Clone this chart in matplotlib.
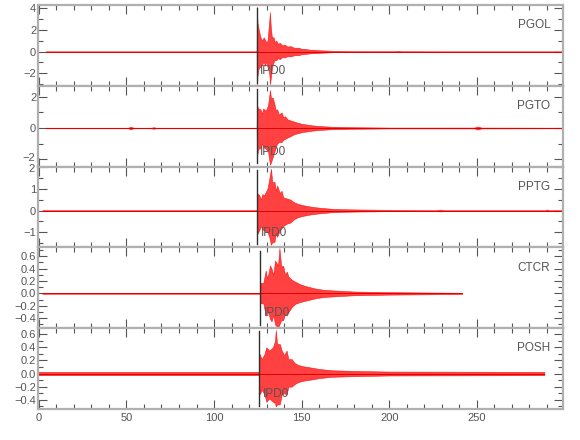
import matplotlib
matplotlib.use("Agg")
import matplotlib.pyplot as plt
from matplotlib.ticker import MultipleLocator, FuncFormatter
from matplotlib.transforms import offset_copy
import numpy as np

plt.rcParams['font.family'] = ['Liberation Sans Narrow', 'Liberation Sans', 'DejaVu Sans']

stations = ["PGOL", "PGTO", "PPTG", "CTCR", "POSH"]
pick_label = "IPD0"
pick_times = [124.4, 124.4, 124.7, 126.4, 125.8]

# envelope of each trace: time, upper amplitude, lower amplitude (magnitude)
pgol_t = [4, 124.3, 124.4, 124.8, 125.5, 126.5, 127.5, 128.3, 129, 130, 130.5, 131.5, 131.9, 132.4, 133.0, 134, 134.8, 135.5, 136.5, 137.5, 139, 140, 142, 143.5, 146, 148, 150, 152, 155, 157, 160, 163, 167, 172, 180, 203, 205, 207, 230, 299]
pgol_up = [0.02, 0.02, 4.1, 2.6, 2.0, 1.3, 1.0, 1.3, 1.1, 0.8, 1.0, 2.8, 3.6, 2.2, 1.3, 1.3, 0.8, 1.0, 0.7, 0.8, 0.55, 0.65, 0.45, 0.5, 0.33, 0.36, 0.25, 0.24, 0.16, 0.17, 0.12, 0.1, 0.07, 0.06, 0.04, 0.03, 0.07, 0.03, 0.02, 0.02]
pgol_lo = [0.02, 0.02, 3.0, 2.2, 1.5, 1.4, 1.2, 0.9, 1.3, 0.9, 1.4, 2.0, 3.0, 2.4, 1.5, 0.95, 0.75, 0.8, 0.6, 0.7, 0.5, 0.55, 0.42, 0.45, 0.33, 0.34, 0.25, 0.22, 0.16, 0.15, 0.12, 0.1, 0.07, 0.06, 0.04, 0.03, 0.07, 0.03, 0.02, 0.02]

pgto_t = [4, 51, 52.5, 54, 64, 65.5, 67, 124.3, 124.5, 125.2, 126.5, 127.3, 128, 129.5, 130.8, 131.9, 132.5, 133.5, 134.5, 135.3, 136, 137, 138.5, 139.5, 140.5, 142, 144, 146, 148, 150, 153, 156, 160, 167, 173, 180, 200, 248.5, 250.5, 252.5, 299]
pgto_up = [0.02, 0.02, 0.09, 0.02, 0.02, 0.05, 0.02, 0.02, 1.46, 1.25, 1.2, 0.9, 1.25, 1.1, 1.46, 2.43, 1.9, 1.95, 1.5, 1.1, 1.2, 0.85, 1.0, 0.7, 0.75, 0.55, 0.47, 0.4, 0.33, 0.27, 0.22, 0.17, 0.13, 0.08, 0.07, 0.05, 0.03, 0.03, 0.1, 0.03, 0.02]
pgto_lo = [0.02, 0.02, 0.09, 0.02, 0.02, 0.05, 0.02, 0.02, 1.87, 1.33, 1.3, 1.0, 1.2, 1.33, 1.5, 2.35, 2.2, 1.85, 1.5, 1.2, 1.0, 0.9, 0.9, 0.75, 0.7, 0.6, 0.5, 0.38, 0.33, 0.27, 0.22, 0.17, 0.13, 0.08, 0.07, 0.05, 0.03, 0.03, 0.1, 0.03, 0.02]

pptg_t = [2, 124.6, 124.8, 125.8, 126.8, 127.5, 128.6, 130.5, 131.5, 132.5, 133.2, 134.5, 135.3, 136, 137.5, 138.5, 139.5, 141.5, 143.5, 145.5, 148, 151, 155.7, 160, 167, 173, 180, 200, 226, 229, 232, 289, 290, 291, 299.3]
pptg_up = [0.015, 0.015, 0.77, 0.7, 0.5, 0.75, 0.7, 1.0, 1.44, 1.9, 1.3, 1.3, 0.9, 1.14, 0.8, 0.9, 0.6, 0.55, 0.5, 0.38, 0.3, 0.24, 0.17, 0.13, 0.08, 0.06, 0.05, 0.03, 0.015, 0.04, 0.015, 0.015, 0.05, 0.015, 0.015]
pptg_lo = [0.015, 0.015, 1.05, 0.9, 0.7, 0.85, 0.9, 1.0, 1.2, 1.56, 1.45, 1.42, 1.0, 1.2, 0.9, 0.8, 0.7, 0.6, 0.55, 0.4, 0.3, 0.24, 0.17, 0.13, 0.08, 0.06, 0.05, 0.03, 0.015, 0.04, 0.015, 0.015, 0.015, 0.015, 0.015]

ctcr_t = [2, 126.3, 126.5, 128.1, 129.5, 130.2, 130.9, 131.9, 132.8, 133.8, 134.8, 136.5, 137.3, 138.3, 139.5, 140.5, 141.5, 142.5, 144.3, 146.2, 149, 151.9, 157.6, 162, 167, 180, 200, 241.5]
ctcr_up = [0.006, 0.006, 0.17, 0.17, 0.37, 0.25, 0.3, 0.45, 0.4, 0.3, 0.53, 0.45, 0.73, 0.44, 0.44, 0.3, 0.35, 0.27, 0.22, 0.19, 0.15, 0.12, 0.08, 0.06, 0.05, 0.03, 0.02, 0.01]
ctcr_lo = [0.006, 0.006, 0.16, 0.16, 0.36, 0.28, 0.3, 0.41, 0.45, 0.35, 0.5, 0.56, 0.5, 0.43, 0.43, 0.32, 0.35, 0.3, 0.22, 0.17, 0.14, 0.12, 0.08, 0.06, 0.05, 0.03, 0.02, 0.01]

posh_t = [0, 125.7, 125.9, 127.2, 128.8, 129.8, 131.5, 133.6, 134.8, 135.2, 136, 137.5, 138.6, 140, 141.4, 142.4, 144.3, 146, 148.1, 151, 155.7, 160, 167, 180, 200, 288.5]
posh_up = [0.025, 0.025, 0.3, 0.22, 0.3, 0.4, 0.35, 0.4, 0.5, 0.66, 0.45, 0.45, 0.35, 0.28, 0.35, 0.22, 0.22, 0.16, 0.13, 0.11, 0.09, 0.07, 0.05, 0.04, 0.03, 0.025]
posh_lo = [0.025, 0.025, 0.32, 0.25, 0.32, 0.43, 0.38, 0.43, 0.45, 0.5, 0.47, 0.47, 0.32, 0.3, 0.32, 0.2, 0.2, 0.16, 0.13, 0.11, 0.09, 0.07, 0.05, 0.04, 0.03, 0.025]

traces = [(pgol_t, pgol_up, pgol_lo), (pgto_t, pgto_up, pgto_lo), (pptg_t, pptg_up, pptg_lo),
          (ctcr_t, ctcr_up, ctcr_lo), (posh_t, posh_up, posh_lo)]

ylims = [(-3.13, 4.25), (-2.47, 2.7), (-1.68, 2.0), (-0.56, 0.74), (-0.54, 0.69)]
ymajor = [2, 2, 1, 0.2, 0.2]
yminor = [1, 1, 0.5, 0.1, 0.1]
xlim = (-0.3, 299.3)

fig = plt.figure(figsize=(5.8, 4.4), dpi=100)
gs = fig.add_gridspec(5, 1, left=38.3/580, right=563.3/580, top=1-5/440, bottom=1-409/440, hspace=0)

spine_col = '#b0b0b0'
text_col = '#555555'
lab_size = 8

def fmt_int(v, pos):
    s = '%d' % round(v)
    return s.replace('-', '\u2212')

def fmt_dec(v, pos):
    s = '%.1f' % v
    if s == '-0.0':
        s = '0.0'
    return s.replace('-', '\u2212')

for i, (t, up, lo) in enumerate(traces):
    ax = fig.add_subplot(gs[i])
    t = np.asarray(t); up = np.asarray(up); lo = np.asarray(lo)
    ax.fill_between(t, -lo, up, facecolor='#ff2020', edgecolor='#ff0000', linewidth=0.4, alpha=0.85)
    ax.plot(t, np.zeros_like(t), color='#e00000', linewidth=0.7)
    ax.axvline(pick_times[i], ymin=0.04, ymax=0.96, color='#303030', linewidth=1.0, zorder=3)
    ax.text(pick_times[i] + 1.8, ylims[i][0] + 0.11*(ylims[i][1]-ylims[i][0]), pick_label,
            color=text_col, fontsize=8.5, ha='left', va='bottom', zorder=5)
    ax.text(0.975, 0.75, stations[i], transform=ax.transAxes, ha='right', va='center',
            color=text_col, fontsize=8.5)
    ax.set_xlim(*xlim)
    ax.set_ylim(*ylims[i])
    ax.xaxis.set_major_locator(MultipleLocator(50))
    ax.xaxis.set_minor_locator(MultipleLocator(10))
    ax.yaxis.set_major_locator(MultipleLocator(ymajor[i]))
    ax.yaxis.set_minor_locator(MultipleLocator(yminor[i]))
    fmt = fmt_int if i < 3 else fmt_dec
    ax.yaxis.set_major_formatter(FuncFormatter(fmt))
    ax.tick_params(which='both', direction='in', top=True, right=True, color='#555555',
                   labelcolor=text_col, labelsize=lab_size, width=0.8)
    ax.tick_params(which='major', length=6.5, pad=1.5)
    ax.tick_params(which='minor', length=3.5)
    ax.tick_params(axis='x', pad=3)
    for s in ax.spines.values():
        s.set_color(spine_col)
        s.set_linewidth(1.6)
    if i < 4:
        ax.tick_params(axis='x', labelbottom=False)
    else:
        ax.xaxis.set_major_formatter(FuncFormatter(fmt_int))

    # labels that sit at a panel joint: draw them slightly nudged so they do not collide
    if i == 1:
        ax.yaxis.set_major_formatter(FuncFormatter(lambda v, p: '' if round(v) == -2 else fmt_int(v, p)))
        tr = offset_copy(ax.get_yaxis_transform(), fig=fig, x=-3.5, y=1.5, units='dots')
        ax.text(0, -2, fmt_int(-2, None), transform=tr, ha='right', va='center',
                fontsize=lab_size, color=text_col)
    if i == 2:
        ax.yaxis.set_major_formatter(FuncFormatter(lambda v, p: '' if round(v) == 2 else fmt_int(v, p)))
        tr = offset_copy(ax.get_yaxis_transform(), fig=fig, x=-3.5, y=-2.0, units='dots')
        ax.text(0, 2, fmt_int(2, None), transform=tr, ha='right', va='center',
                fontsize=lab_size, color=text_col)

fig.savefig('out.png', dpi=100)
